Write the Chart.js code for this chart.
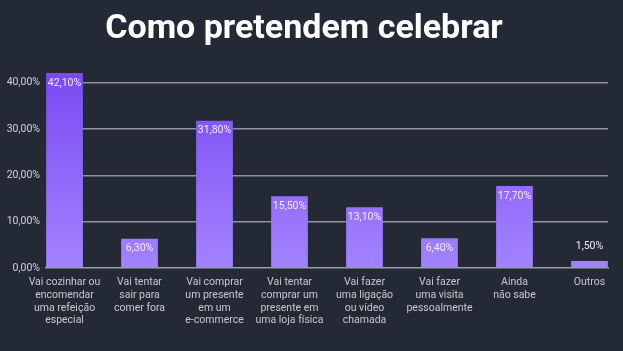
<!DOCTYPE html>
<html lang="pt">
<head>
    <meta charset="UTF-8">
    <title>Como pretendem celebrar</title>
    <script src="https://cdn.jsdelivr.net/npm/chart.js@4.4.1/dist/chart.umd.min.js"></script>
    <style>
        html, body {
            margin: 0;
            padding: 0;
            background-color: #232a36;
        }
        .chart-container {
            position: relative;
            width: 623px;
            height: 351px;
        }
    </style>
</head>
<body>
    <div class="chart-container">
        <canvas id="celebrarChart"></canvas>
    </div>

    <script>
        const categories = [
            ['Vai cozinhar ou', 'encomendar', 'uma refeição', 'especial'],
            ['Vai tentar', 'sair para', 'comer fora'],
            ['Vai comprar', 'um presente', 'em um', 'e-commerce'],
            ['Vai tentar', 'comprar um', 'presente em', 'uma loja física'],
            ['Vai fazer', 'uma ligação', 'ou vídeo', 'chamada'],
            ['Vai fazer', 'uma visita', 'pessoalmente'],
            ['Ainda', 'não sabe'],
            ['Outros']
        ];
        const percentages = [42.1, 6.3, 31.8, 15.5, 13.1, 6.4, 17.7, 1.5];
        const yTicks = [0, 10, 20, 30, 40];

        const fmt = v => v.toFixed(2).replace('.', ',') + '%';

        // valores em cima / dentro das barras
        const valueLabels = {
            id: 'valueLabels',
            afterDatasetsDraw(chart) {
                const ctx = chart.ctx;
                const meta = chart.getDatasetMeta(0);
                ctx.save();
                ctx.font = '10.5px Roboto, sans-serif';
                ctx.fillStyle = '#efeaff';
                ctx.textAlign = 'center';
                ctx.textBaseline = 'middle';
                meta.data.forEach((bar, i) => {
                    const h = bar.base - bar.y;
                    const y = h > 20 ? bar.y + 10 : bar.y - 15;
                    ctx.fillText(fmt(percentages[i]), bar.x, y);
                });
                ctx.restore();
            }
        };

        new Chart(document.getElementById('celebrarChart'), {
            type: 'bar',
            data: {
                labels: categories,
                datasets: [{
                    data: percentages,
                    clip: false,
                    barPercentage: 0.49,
                    categoryPercentage: 1,
                    backgroundColor(c) {
                        const area = c.chart.chartArea;
                        if (!area) return '#8b5cf6';
                        const g = c.chart.ctx.createLinearGradient(0, area.top - 10, 0, area.bottom);
                        g.addColorStop(0, '#7a4af2');
                        g.addColorStop(1, '#a383ff');
                        return g;
                    }
                }]
            },
            options: {
                responsive: true,
                maintainAspectRatio: false,
                animation: false,
                layout: { padding: { left: 0, right: 15, top: 0, bottom: 0 } },
                plugins: {
                    legend: { display: false },
                    tooltip: { enabled: false },
                    title: {
                        display: true,
                        text: 'Como pretendem celebrar',
                        color: '#ffffff',
                        font: { family: 'Roboto, sans-serif', size: 34, weight: 'bold', lineHeight: 1.2 },
                        padding: { top: 9, bottom: 33 }
                    }
                },
                scales: {
                    x: {
                        grid: { display: false, drawTicks: false },
                        border: { display: true, color: '#9a9ea6', width: 1.5 },
                        ticks: {
                            color: '#c6c8cd',
                            padding: 8,
                            maxRotation: 0,
                            autoSkip: false,
                            font: { family: 'Roboto, sans-serif', size: 10.5, lineHeight: 1.22 }
                        },
                        afterBuildTicks(axis) {
                            // as barras encostam nas bordas da área do gráfico
                            axis._startValue = -0.247;
                            axis._valueRange = categories.length - 1 + 0.494;
                        },
                        afterFit(axis) { axis.height = 83; }
                    },
                    y: {
                        min: 0,
                        max: 40,
                        afterBuildTicks(axis) {
                            axis.ticks = yTicks.map(v => ({ value: v }));
                        },
                        grid: {
                            drawTicks: false,
                            color: c => c.tick && c.tick.value === 0 ? 'rgba(0,0,0,0)' : '#8f939b',
                            lineWidth: 1.5
                        },
                        border: { display: false },
                        ticks: {
                            color: '#d2d3d6',
                            padding: 6,
                            font: { family: 'Roboto, sans-serif', size: 10.5 },
                            callback: v => fmt(v)
                        },
                        afterFit(axis) { axis.width = 46; }
                    }
                }
            },
            plugins: [valueLabels]
        });
    </script>
</body>
</html>
